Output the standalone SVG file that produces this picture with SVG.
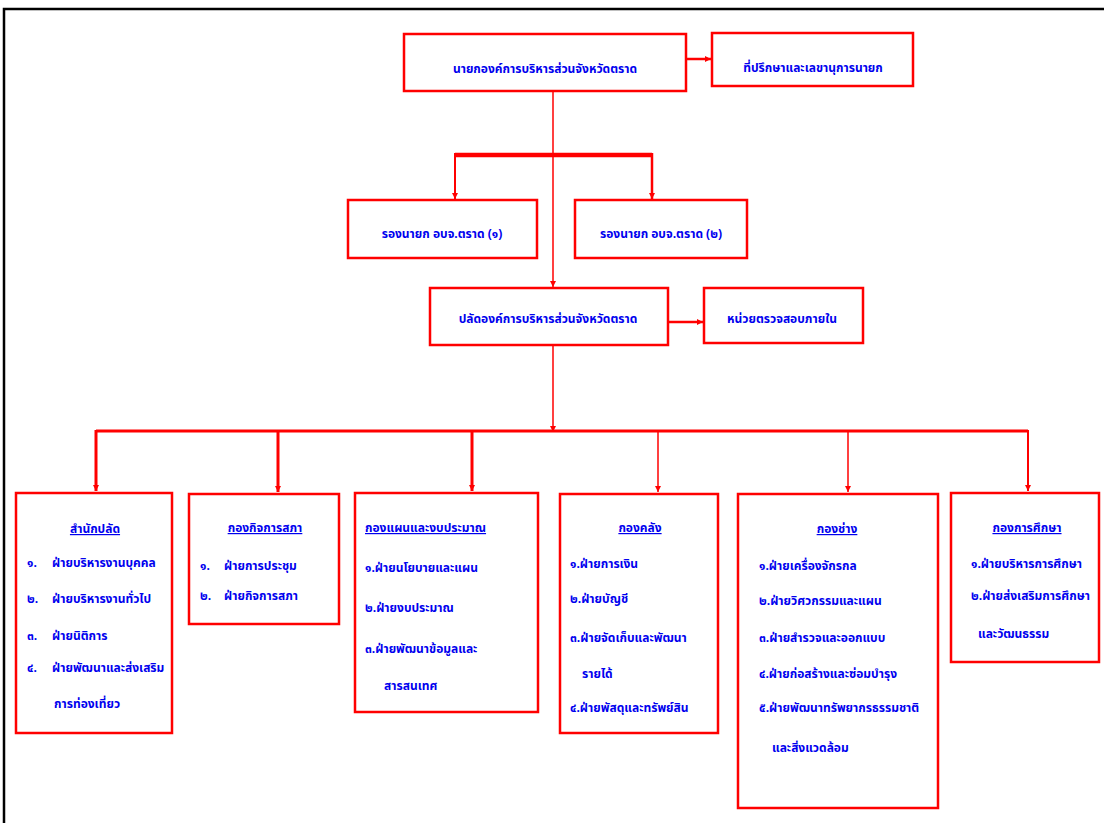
<svg xmlns="http://www.w3.org/2000/svg" width="1104" height="823" viewBox="0 0 1104 823">
<style>
.box{fill:#fff;stroke:#ff0000;stroke-width:2.5}
.ln{fill:none;stroke:#ff0000}
.t{font-family:"Noto Sans Thai","Noto Sans","DejaVu Sans",sans-serif;font-weight:bold;font-size:12px;fill:#0000ee}
.c{text-anchor:middle}
.h{text-decoration:underline}
</style>
<defs>
<marker id="a" viewBox="0 0 10 10" refX="10" refY="5" markerWidth="6" markerHeight="7" orient="auto" markerUnits="userSpaceOnUse">
<path d="M0,0 L10,5 L0,10 z" fill="#ff0000"/>
</marker>
</defs>
<rect width="1104" height="823" fill="#fff"/>
<path d="M4,823 V9 H1104" fill="none" stroke="#000" stroke-width="2.5"/>

<g id="connectors">
<path class="ln" d="M686,59 H711" stroke-width="2.5" marker-end="url(#a)"/>
<path class="ln" d="M553,91 V287" stroke-width="1.5" marker-end="url(#a)"/>
<path class="ln" d="M455,155 H652" stroke-width="4.5"/>
<path class="ln" d="M455,153 V199" stroke-width="2" marker-end="url(#a)"/>
<path class="ln" d="M652,153 V199" stroke-width="2.5" marker-end="url(#a)"/>
<path class="ln" d="M668,322 H703" stroke-width="2.5" marker-end="url(#a)"/>
<path class="ln" d="M553,345 V432" stroke-width="1.5" marker-end="url(#a)"/>
<path class="ln" d="M96,431 H1028" stroke-width="3"/>
<path class="ln" d="M96,430 V491" stroke-width="3" marker-end="url(#a)"/>
<path class="ln" d="M278,430 V492" stroke-width="3" marker-end="url(#a)"/>
<path class="ln" d="M472,430 V491" stroke-width="3" marker-end="url(#a)"/>
<path class="ln" d="M658,430 V492" stroke-width="1.5" marker-end="url(#a)"/>
<path class="ln" d="M848,430 V492" stroke-width="1.5" marker-end="url(#a)"/>
<path class="ln" d="M1028,430 V491" stroke-width="2" marker-end="url(#a)"/>
</g>

<g id="n-chief">
<rect class="box" x="404" y="34" width="282" height="57"/>
<text class="t c" x="545" y="73">นายกองค์การบริหารส่วนจังหวัดตราด</text>
</g>
<g id="n-advisor">
<rect class="box" x="712" y="33" width="201" height="53"/>
<text class="t c" x="813" y="72">ที่ปรึกษาและเลขานุการนายก</text>
</g>
<g id="n-deputy1">
<rect class="box" x="348" y="200" width="189" height="58"/>
<text class="t c" x="442" y="238">รองนายก อบจ.ตราด (๑)</text>
</g>
<g id="n-deputy2">
<rect class="box" x="575" y="200" width="172" height="58"/>
<text class="t c" x="661" y="238">รองนายก อบจ.ตราด (๒)</text>
</g>
<g id="n-palad">
<rect class="box" x="430" y="288" width="238" height="57"/>
<text class="t c" x="548" y="323">ปลัดองค์การบริหารส่วนจังหวัดตราด</text>
</g>
<g id="n-audit">
<rect class="box" x="704" y="288" width="159" height="55"/>
<text class="t c" x="782" y="323">หน่วยตรวจสอบภายใน</text>
</g>

<g id="n-office">
<rect class="box" x="16" y="493" width="156" height="240"/>
<text class="t c h" x="95" y="533">สำนักปลัด</text>
<text class="t" x="27" y="567">๑.</text><text class="t" x="52" y="567">ฝ่ายบริหารงานบุคคล</text>
<text class="t" x="27" y="603">๒.</text><text class="t" x="52" y="603">ฝ่ายบริหารงานทั่วไป</text>
<text class="t" x="27" y="640">๓.</text><text class="t" x="52" y="640">ฝ่ายนิติการ</text>
<text class="t" x="27" y="672">๔.</text><text class="t" x="52" y="672">ฝ่ายพัฒนาและส่งเสริม</text>
<text class="t" x="54" y="708">การท่องเที่ยว</text>
</g>
<g id="n-council">
<rect class="box" x="189" y="494" width="150" height="130"/>
<text class="t c h" x="265" y="532">กองกิจการสภา</text>
<text class="t" x="200" y="570">๑.</text><text class="t" x="224" y="570">ฝ่ายการประชุม</text>
<text class="t" x="200" y="600">๒.</text><text class="t" x="224" y="600">ฝ่ายกิจการสภา</text>
</g>
<g id="n-plan">
<rect class="box" x="355" y="493" width="183" height="219"/>
<text class="t h" x="365" y="532">กองแผนและงบประมาณ</text>
<text class="t" x="365" y="572">๑.ฝ่ายนโยบายและแผน</text>
<text class="t" x="365" y="612">๒.ฝ่ายงบประมาณ</text>
<text class="t" x="365" y="653">๓.ฝ่ายพัฒนาข้อมูลและ</text>
<text class="t" x="384" y="690">สารสนเทศ</text>
</g>
<g id="n-finance">
<rect class="box" x="560" y="494" width="158" height="239"/>
<text class="t c h" x="640" y="532">กองคลัง</text>
<text class="t" x="570" y="568">๑.ฝ่ายการเงิน</text>
<text class="t" x="570" y="603">๒.ฝ่ายบัญชี</text>
<text class="t" x="570" y="642">๓.ฝ่ายจัดเก็บและพัฒนา</text>
<text class="t" x="582" y="678">รายได้</text>
<text class="t" x="570" y="712">๔.ฝ่ายพัสดุและทรัพย์สิน</text>
</g>
<g id="n-works">
<rect class="box" x="738" y="494" width="200" height="314"/>
<text class="t c h" x="837" y="533">กองช่าง</text>
<text class="t" x="759" y="570">๑.ฝ่ายเครื่องจักรกล</text>
<text class="t" x="759" y="605">๒.ฝ่ายวิศวกรรมและแผน</text>
<text class="t" x="759" y="642">๓.ฝ่ายสำรวจและออกแบบ</text>
<text class="t" x="759" y="678">๔.ฝ่ายก่อสร้างและซ่อมบำรุง</text>
<text class="t" x="759" y="712">๕.ฝ่ายพัฒนาทรัพยากรธรรมชาติ</text>
<text class="t" x="772" y="752">และสิ่งแวดล้อม</text>
</g>
<g id="n-education">
<rect class="box" x="951" y="493" width="148" height="169"/>
<text class="t c h" x="1027" y="532">กองการศึกษา</text>
<text class="t" x="971" y="568">๑.ฝ่ายบริหารการศึกษา</text>
<text class="t" x="971" y="600">๒.ฝ่ายส่งเสริมการศึกษา</text>
<text class="t" x="978" y="638">และวัฒนธรรม</text>
</g>
</svg>
